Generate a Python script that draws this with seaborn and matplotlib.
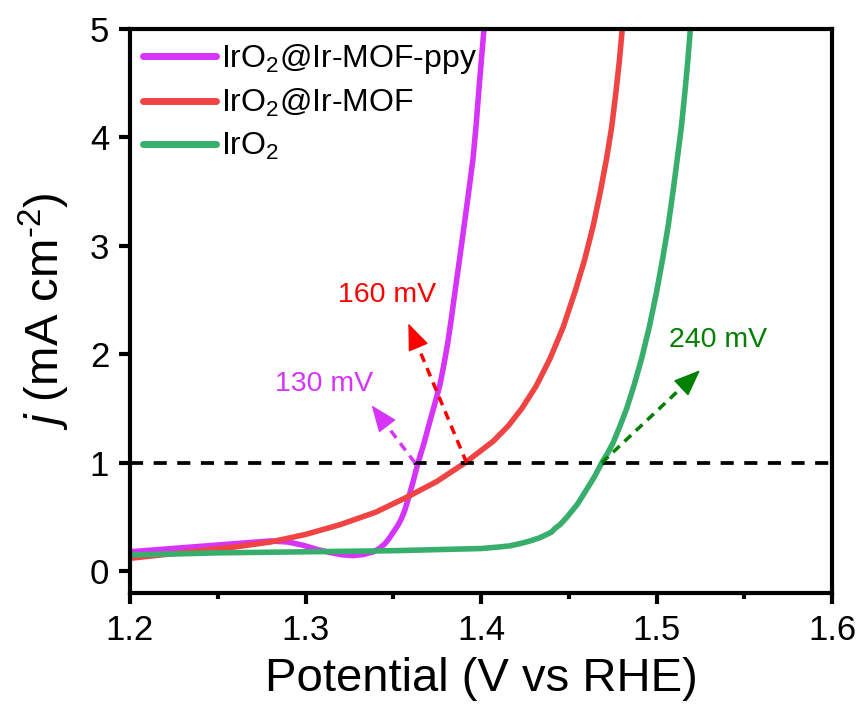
import numpy as np
import pandas as pd
import matplotlib
matplotlib.use("Agg")
import matplotlib.pyplot as plt
import seaborn as sns

# LSV polarization curves (potential in V vs RHE, current density in mA cm^-2)
ppy_potential = [1.200, 1.220, 1.240, 1.260, 1.280, 1.290, 1.2986, 1.307, 1.315, 1.321, 1.327,
                 1.333, 1.3387, 1.342, 1.345, 1.3475, 1.350, 1.3525, 1.3545, 1.3565, 1.3584,
                 1.3612, 1.3641, 1.3675, 1.3705, 1.3736, 1.3766, 1.3788, 1.3810, 1.3831,
                 1.3852, 1.3878, 1.3905, 1.3930, 1.3955, 1.3972, 1.3987, 1.4002, 1.4017]
ppy_current = [0.18, 0.205, 0.23, 0.255, 0.28, 0.27, 0.24, 0.20, 0.17, 0.152, 0.145,
               0.155, 0.18, 0.21, 0.25, 0.30, 0.36, 0.42, 0.48, 0.56, 0.66,
               0.82, 1.00, 1.18, 1.36, 1.54, 1.72, 1.90, 2.10, 2.33,
               2.58, 2.88, 3.20, 3.50, 3.81, 4.11, 4.42, 4.71, 5.00]

mof_potential = [1.200, 1.220, 1.240, 1.260, 1.280, 1.300, 1.3197, 1.340, 1.3586, 1.375,
                 1.3909, 1.4070, 1.4155, 1.4232, 1.4315, 1.4393, 1.4468, 1.4536, 1.4590,
                 1.4640, 1.4680, 1.4716, 1.4745, 1.4769, 1.4788, 1.4805]
mof_current = [0.12, 0.155, 0.19, 0.225, 0.27, 0.34, 0.43, 0.545, 0.69, 0.83,
               1.00, 1.20, 1.34, 1.50, 1.71, 1.96, 2.25, 2.58, 2.87,
               3.19, 3.50, 3.81, 4.10, 4.42, 4.70, 5.00]

iro2_potential = [1.200, 1.250, 1.300, 1.350, 1.400, 1.4108, 1.4165, 1.4222, 1.4280, 1.4336,
                  1.4400, 1.4425, 1.4450, 1.4470, 1.4490, 1.4520, 1.4550, 1.4577, 1.4604,
                  1.4646, 1.4688, 1.4722, 1.4754, 1.4792, 1.4830, 1.4873, 1.4915, 1.4960,
                  1.5001, 1.5035, 1.5067, 1.5094, 1.5119, 1.5142, 1.5162, 1.5178, 1.5193]
iro2_current = [0.15, 0.17, 0.18, 0.19, 0.21, 0.225, 0.235, 0.255, 0.28, 0.31,
                0.36, 0.40, 0.43, 0.465, 0.50, 0.56, 0.62, 0.69, 0.76,
                0.87, 1.00, 1.09, 1.19, 1.34, 1.50, 1.72, 1.96, 2.26,
                2.58, 2.88, 3.19, 3.50, 3.81, 4.10, 4.42, 4.70, 5.00]

series_names = ["IrO$_2$@Ir-MOF-ppy", "IrO$_2$@Ir-MOF", "IrO$_2$"]
series_colors = ["#D634F8", "#F04444", "#38AE6C"]

# Onset markers at j = 1 mA cm^-2: arrow base, arrow tip, label position, text
marker_base_x = [1.3624, 1.3918, 1.4688]
marker_tip = [(1.3377, 1.53), (1.3586, 2.285), (1.5248, 1.854)]
marker_text_pos = [(1.3105, 1.725), (1.3462, 2.546), (1.535, 2.131)]
marker_labels = ["130 mV", "160 mV", "240 mV"]
marker_colors = ["#D634F8", "#FF0000", "#008000"]
ref_current = 1.0

frames = []
for name, xs, ys in zip(series_names,
                        [ppy_potential, mof_potential, iro2_potential],
                        [ppy_current, mof_current, iro2_current]):
    frames.append(pd.DataFrame({"Potential": xs, "j": ys, "Sample": name}))
data = pd.concat(frames, ignore_index=True)

sns.set_style("ticks")
plt.rcParams["font.family"] = ["Liberation Sans", "DejaVu Sans"]
plt.rcParams["mathtext.fontset"] = "custom"
plt.rcParams["mathtext.rm"] = "Liberation Sans"
plt.rcParams["mathtext.it"] = "Liberation Sans:italic"
plt.rcParams["mathtext.default"] = "regular"
for key in ["text.color", "axes.labelcolor", "axes.edgecolor", "xtick.color", "ytick.color"]:
    plt.rcParams[key] = "black"

fig = plt.figure(figsize=(8.63, 7.22), dpi=100)
ax = fig.add_axes([130 / 863, 1 - 593 / 722, (832 - 130) / 863, (593 - 29) / 722])

sns.lineplot(data=data, x="Potential", y="j", hue="Sample", hue_order=series_names,
             palette=series_colors, sort=False, estimator=None, linewidth=4.0, ax=ax)
for ln in ax.get_lines():
    ln.set_solid_joinstyle("round")

ax.set_xlim(1.2, 1.6)
ax.set_ylim(-0.2, 5)

ax.axhline(ref_current, color="black", linewidth=2.7, linestyle=(0, (3.5, 2.8)), zorder=3)

# dashed arrow shafts with solid heads
head_px = 23.0
for bx, tip, tpos, lab, col in zip(marker_base_x, marker_tip, marker_text_pos,
                                   marker_labels, marker_colors):
    p0 = ax.transData.transform((bx, ref_current))
    p1 = ax.transData.transform(tip)
    d = (p1 - p0) / np.hypot(*(p1 - p0))
    neck = ax.transData.inverted().transform(p1 - d * head_px)
    ax.plot([bx, neck[0]], [ref_current, neck[1]], color=col, lw=2.5,
            linestyle=(0, (2.6, 1.9)), zorder=4, solid_capstyle="butt")
    ax.annotate("", xy=tip, xytext=(neck[0], neck[1]), zorder=4,
                arrowprops=dict(arrowstyle="-|>,head_length=0.85,head_width=0.34",
                                color=col, lw=1.0, shrinkA=0, shrinkB=0,
                                mutation_scale=20))
    ax.text(tpos[0], tpos[1], lab, color=col, fontsize=20.5, ha="center", va="center")

ax.set_xticks([1.2, 1.3, 1.4, 1.5, 1.6])
ax.set_xticks([1.25, 1.35, 1.45, 1.55], minor=True)
ax.set_yticks([0, 1, 2, 3, 4, 5])
ax.set_xticklabels(["1.2", "1.3", "1.4", "1.5", "1.6"])

for sp in ax.spines.values():
    sp.set_linewidth(3)
    sp.set_visible(True)
ax.tick_params(axis="both", which="major", direction="out", length=8, width=3,
               labelsize=25, pad=7)
ax.tick_params(axis="x", which="minor", direction="out", length=4, width=3)

ax.set_xlabel("Potential (V vs RHE)", fontsize=34, labelpad=7)
ax.set_ylabel("$\\it{j}$ (mA cm$^{\\text{-2}}$)", fontsize=34, labelpad=13)

leg = ax.legend(loc="upper left", frameon=False, fontsize=23, handlelength=2.3,
                handletextpad=0.15, labelspacing=0.36, borderaxespad=0.1, borderpad=0.3)
for h in leg.get_lines():
    h.set_linewidth(5)
    h.set_solid_capstyle("round")

fig.savefig("out.png", dpi=100)
